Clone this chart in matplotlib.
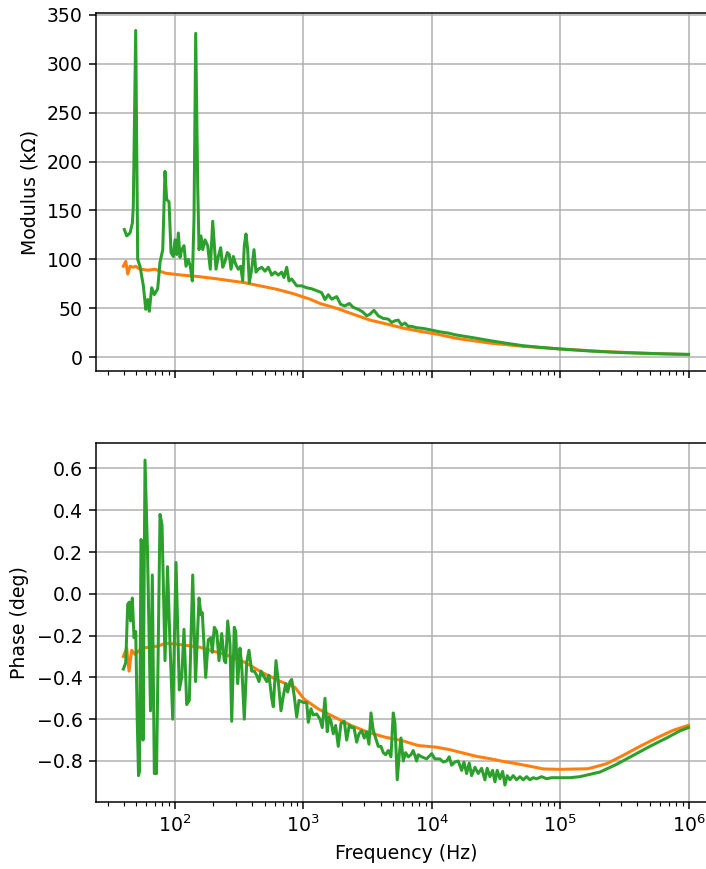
import matplotlib
matplotlib.use("Agg")
import matplotlib.pyplot as plt

# ---------------- data ----------------
# Modulus, orange trace
mod_or_f = [39.8, 41.6, 43.1, 44.9, 47.6, 49.7, 53.7, 62.3, 70.3, 84.0, 113.4, 152.6,
            205.9, 342.0, 461.1, 622.1, 837.5, 1129, 1351, 1823, 2454, 3310, 4465,
            6012, 8108, 10940, 15650, 28420, 51630, 100000, 230100, 563700, 1000000]
mod_or_v = [93, 98, 85, 93, 92, 93, 90, 89, 90, 86, 84, 82.5,
            80.4, 76.4, 73, 69.5, 65, 59.4, 55, 50, 44, 38, 34,
            29.8, 26.5, 23.7, 19.3, 14.5, 11.2, 8.5, 5.7, 3.7, 2.7]

# Modulus, green trace
mod_gr_f = [40.5, 42.3, 44.9, 46.8, 47.6, 49.7, 51.5, 53.7, 57.0, 59.5, 61.6, 63.4,
            66.2, 69.4, 73.7, 76.8, 80.7, 84.0, 86.6, 90.3, 93.6, 97.5, 100.5, 103.7,
            106.7, 110.0, 113.4, 118.1, 122.4, 127.6, 132.3, 137.1, 141.3, 145.7, 151.0,
            154.6, 160.2, 165.2, 172.1, 180.6, 189.2, 197.6, 209.6, 218.4, 228.0, 236.3,
            246.3, 256.7, 266.0, 274.3, 285.8, 298.3, 312.5, 326.3, 338.2, 348.0, 358.8,
            369.9, 380.6, 397.4, 414.1, 429.2, 447.2, 475.3, 504.3, 535.3, 568.9, 603.2,
            640.0, 680.2, 708.9, 744.0, 775.3, 813.8, 890.2, 973.4, 1065, 1164, 1274,
            1393, 1478, 1568, 1667, 1823, 1959, 2115, 2285, 2454, 2684, 2904, 3120, 3310,
            3556, 3841, 4202, 4596, 4884, 5181, 5497, 5841, 6198, 6575, 6988, 7643, 8604,
            9700, 11600, 13470, 15650, 21080, 28420, 38350, 51630, 69620, 99630, 170600,
            309800, 563700, 1000000]
mod_gr_v = [130.6, 124, 127, 137, 154, 334, 100, 93, 73, 49, 59, 47,
            71, 64, 70, 97, 110, 190, 161, 159, 107, 103, 120, 105,
            127, 102, 110, 114, 93, 100, 93, 78, 141, 331, 175,
            110, 124, 110, 120, 114, 90, 139, 90, 103, 112, 92,
            98, 107, 105, 90, 103, 95, 90, 93, 78, 114, 126,
            110, 76, 90, 110, 87, 90, 92, 88, 92, 84, 87,
            84, 87, 81.5, 92, 78, 80, 73, 73, 71, 70, 68,
            66, 59, 64, 59.4, 62, 54, 52.5, 55, 51, 49, 46.4, 42.4, 44,
            48, 42.4, 39.7, 39, 35.6, 37.3, 38, 33, 35, 31.6, 31.6, 30.2, 29.5,
            28.1, 26, 24.7, 22.7, 20, 17, 14.3, 11.8, 10.2, 8.5, 6.4,
            4.7, 3.7, 3.0]

# Phase, orange trace
ph_or_f = [39.8, 42.3, 44.09, 46.28, 49.09, 55.36, 62.3, 74.54, 84.04, 100.5, 127.6,
           157.4, 194.1, 261.3, 352.4, 475.3, 640.0, 863.4, 1014, 1311, 1768, 2385,
           3211, 4331, 5841, 7865, 10940, 13880, 17620, 22400, 28420, 36070, 45870,
           58210, 73890, 100000, 165500, 230100, 309800, 417800, 563700, 759000, 1000000]
ph_or_v = [-0.30, -0.26, -0.37, -0.27, -0.29, -0.26, -0.256, -0.25, -0.237, -0.24, -0.248,
           -0.256, -0.272, -0.296, -0.328, -0.375, -0.415, -0.448, -0.503, -0.551, -0.591, -0.631,
           -0.663, -0.686, -0.702, -0.726, -0.734, -0.746, -0.762, -0.778, -0.789, -0.802, -0.813,
           -0.825, -0.838, -0.84, -0.837, -0.813, -0.773, -0.73, -0.69, -0.653, -0.629]

# Phase, green trace
ph_gr_f = [39.81, 41.56, 43.07, 44.33, 45.29, 46.77, 48.23, 49.71, 51.15, 52.27, 53.22,
           54.66, 55.65, 56.66, 58.73, 61.41, 64.80, 66.92, 69.40, 72.18, 76.84, 79.65,
           84.04, 87.90, 91.92, 96.47, 102.35, 108.6, 113.4, 118.1, 124.0, 129.9, 138.1,
           145.2, 154.6, 160.2, 163.9, 174.3, 182.6, 191.6, 196.1, 203.3, 212.2, 221.2,
           232.2, 243.2, 249.4, 258.5, 269.4, 277.8, 290.9, 298.3, 309.2, 322.2, 332.2,
           348.0, 363.3, 378.6, 397.4, 416.3, 434.6, 452.9, 469.5, 489.3, 520.0, 541.8,
           568.9, 585.4, 614.4, 640.0, 671.9, 700.0, 730.9, 757.5, 789.4, 813.8, 852.5,
           890.2, 927.7, 1002, 1065, 1096, 1150, 1198, 1274, 1351, 1408, 1478, 1540,
           1588, 1646, 1715, 1790, 1876, 1969, 2089, 2181, 2285, 2385, 2486, 2609, 2719,
           2854, 2990, 3120, 3252, 3371, 3513, 3667, 3841, 4031, 4202, 4385, 4595, 4823,
           5026, 5181, 5399, 5597, 5770, 6012, 6277, 6575, 6902, 7193, 7643, 7865, 8361,
           9144, 10000, 10610, 11600, 12310, 13080, 13710, 14310, 15180, 16110, 17120,
           17840, 18730, 19620, 20480, 21730, 23060, 24500, 25990, 27080, 28420, 29830,
           31090, 32400, 34010, 35690, 37190, 38760, 40680, 43150, 45870, 48670, 51630,
           54890, 58210, 61760, 65640, 71780, 78520, 85900, 93930, 119200, 142600,
           204100, 275300, 370600, 499800, 674300, 855700, 1000000]
ph_gr_v = [-0.36, -0.33, -0.05, -0.04, -0.13, -0.02, -0.21, -0.18, -0.62, -0.87, -0.85,
           0.26, 0.24, -0.70, 0.64, 0.20, -0.56, 0.09, -0.86, -0.86, 0.38, 0.33,
           -0.32, 0.13, -0.24, -0.60, 0.15, -0.46, -0.40, -0.17, -0.53, -0.51, 0.09,
           -0.42, -0.02, -0.10, -0.09, -0.40, -0.22, -0.21, -0.28, -0.16, -0.18, -0.32,
           -0.19, -0.32, -0.33, -0.13, -0.24, -0.61, -0.16, -0.18, -0.43, -0.26, -0.34,
           -0.60, -0.33, -0.27, -0.37, -0.37, -0.39, -0.42, -0.37, -0.39, -0.42, -0.39,
           -0.50, -0.54, -0.32, -0.42, -0.56, -0.49, -0.43, -0.47, -0.42, -0.41, -0.49,
           -0.59, -0.51, -0.52, -0.52, -0.615, -0.55, -0.58, -0.575, -0.60, -0.64, -0.50, -0.66,
           -0.59, -0.61, -0.67, -0.63, -0.73, -0.62, -0.61, -0.70, -0.63, -0.64, -0.64, -0.71, -0.67,
           -0.655, -0.69, -0.66, -0.72, -0.57, -0.655, -0.69, -0.73, -0.73, -0.76, -0.77, -0.75, -0.78,
           -0.57, -0.62, -0.89, -0.77, -0.69, -0.80, -0.76, -0.78, -0.77, -0.75, -0.80, -0.77, -0.78,
           -0.79, -0.765, -0.79, -0.79, -0.805, -0.80, -0.78, -0.82, -0.805, -0.80, -0.845,
           -0.805, -0.86, -0.81, -0.87, -0.83, -0.86, -0.835, -0.89, -0.835, -0.875, -0.845,
           -0.90, -0.845, -0.885, -0.85, -0.915, -0.87, -0.89, -0.87, -0.89, -0.875, -0.89,
           -0.875, -0.89, -0.88, -0.885, -0.875, -0.885, -0.88, -0.88, -0.88, -0.875,
           -0.853, -0.816, -0.773, -0.73, -0.69, -0.656, -0.64]

ORANGE = "#ff7f0e"
GREEN = "#2ca02c"

DPI = 136
fig = plt.figure(figsize=(706 / DPI, 869 / DPI), dpi=DPI)

ax1 = fig.add_axes([0.136, 0.5731, 0.878, 0.4116])
ax2 = fig.add_axes([0.136, 0.0774, 0.878, 0.4124], sharex=ax1)

ax1.plot(mod_or_f, mod_or_v, color=ORANGE, lw=1.6)
ax1.plot(mod_gr_f, mod_gr_v, color=GREEN, lw=1.6)
ax2.plot(ph_or_f, ph_or_v, color=ORANGE, lw=1.6)
ax2.plot(ph_gr_f, ph_gr_v, color=GREEN, lw=1.6)

ax1.set_xscale("log")
ax1.set_xlim(24.4, 1.632e6)
ax1.set_ylim(-14, 351.5)
ax2.set_ylim(-0.995, 0.72)
ax1.set_yticks([0, 50, 100, 150, 200, 250, 300, 350])
ax2.set_yticks([-0.8, -0.6, -0.4, -0.2, 0.0, 0.2, 0.4, 0.6])
ax1.tick_params(labelbottom=False)

ax1.set_ylabel("Modulus (k\u03a9)")
ax2.set_ylabel("Phase (deg)")
ax2.set_xlabel("Frequency (Hz)")

for ax in (ax1, ax2):
    ax.grid(True)
    ax.spines["right"].set_visible(False)

fig.savefig("out.png", dpi=DPI)
